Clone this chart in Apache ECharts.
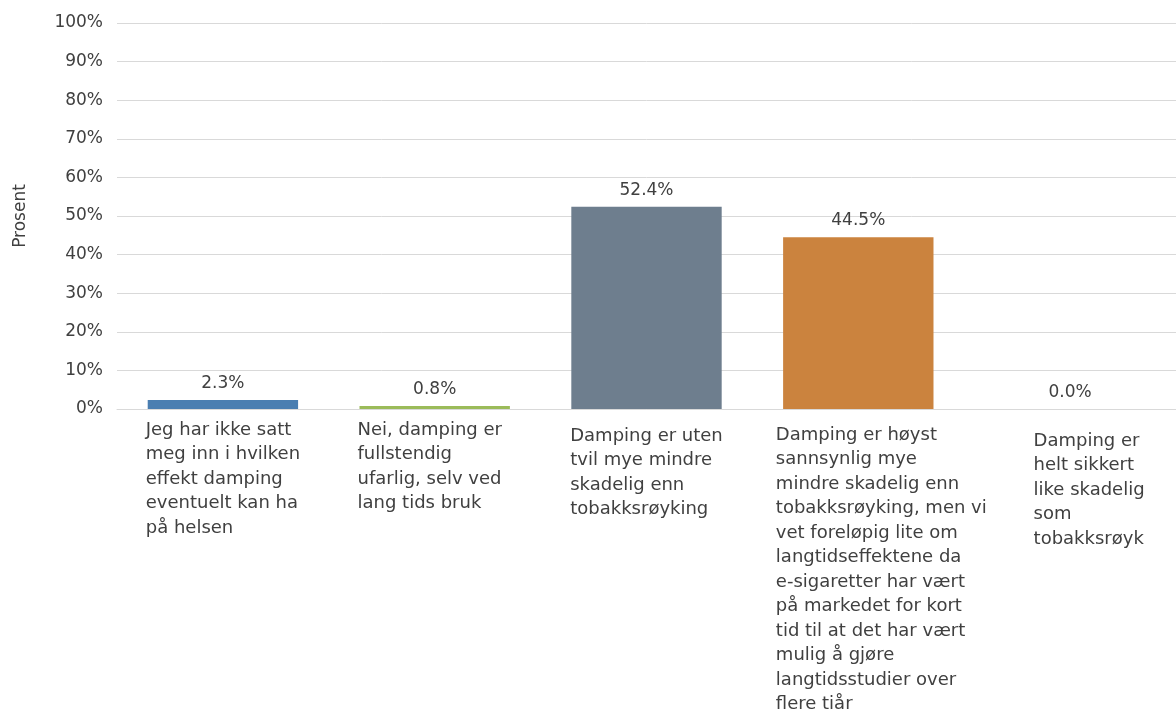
<!DOCTYPE html>
<html>
<head>
<meta charset="utf-8">
<script src="https://cdn.jsdelivr.net/npm/echarts@6/dist/echarts.min.js"></script>
<style>
  html, body { margin: 0; padding: 0; background: #fff; }
  #chart { width: 1176px; height: 716px; }
</style>
</head>
<body>
<div id="chart"></div>
<script>
var categories = [
    'Jeg har ikke satt\nmeg inn i hvilken\neffekt damping\neventuelt kan ha\npå helsen',
    'Nei, damping er\nfullstendig\nufarlig, selv ved\nlang tids bruk',
    'Damping er uten\ntvil mye mindre\nskadelig enn\ntobakksrøyking',
    'Damping er høyst\nsannsynlig mye\nmindre skadelig enn\ntobakksrøyking, men vi\nvet foreløpig lite om\nlangtidseffektene da\ne-sigaretter har vært\npå markedet for kort\ntid til at det har vært\nmulig å gjøre\nlangtidsstudier over\nflere tiår',
    'Damping er\nhelt sikkert\nlike skadelig\nsom\ntobakksrøyk'
];
var values = [2.3, 0.8, 52.4, 44.5, 0.0];
var barColors = ['#4a7eb1', '#9bbb59', '#6e7e8e', '#cb833e', '#8064a2'];
// small nudges of the category labels (px), as Excel placed them
var labelNudgeY = [0, 0, 6, 5, 11];
var labelNudgeX = [0, -5, 0, 23, 19];

var font = 'DejaVu Sans';

var chart = echarts.init(document.getElementById('chart'));

var option = {
    backgroundColor: '#ffffff',
    animation: false,
    grid: {
        left: 117,
        top: 23,
        width: 1065,
        height: 386
    },
    xAxis: {
        type: 'category',
        data: categories.map(function (c, i) {
            var dx = labelNudgeX[i];
            return {
                value: c,
                textStyle: {
                    padding: [labelNudgeY[i], Math.max(0, -2 * dx), 0, Math.max(0, 2 * dx)]
                }
            };
        }),
        axisLine: { lineStyle: { color: '#d9d9d9' } },
        axisTick: { show: false },
        axisLabel: {
            interval: 0,
            margin: 9,
            align: 'center',
            formatter: function (v) {
                return v.split('\n').map(function (s) { return '{l|' + s + '}'; }).join('\n');
            },
            rich: {
                l: {
                    align: 'left',
                    fontFamily: font,
                    fontSize: 18,
                    lineHeight: 24.5,
                    color: '#404040'
                }
            }
        }
    },
    yAxis: {
        type: 'value',
        min: 0,
        max: 100,
        interval: 10,
        name: 'Prosent',
        nameLocation: 'middle',
        nameRotate: 90,
        nameGap: 88,
        nameTextStyle: { fontFamily: font, fontSize: 17, color: '#404040' },
        axisLine: { show: false },
        axisTick: { show: false },
        splitLine: { lineStyle: { color: '#d9d9d9' } },
        axisLabel: {
            margin: 14,
            fontFamily: font,
            fontSize: 17,
            color: '#404040',
            formatter: '{value}%'
        }
    },
    series: [{
        type: 'bar',
        barWidth: '71%',
        data: values.map(function (v, i) {
            return { value: v, itemStyle: { color: barColors[i] } };
        }),
        label: {
            show: true,
            position: 'top',
            distance: 8,
            fontFamily: font,
            fontSize: 17,
            color: '#404040',
            formatter: function (p) { return p.value.toFixed(1) + '%'; }
        }
    }]
};

chart.setOption(option);

window.addEventListener('resize', function () {
    chart.resize();
});
</script>
</body>
</html>
